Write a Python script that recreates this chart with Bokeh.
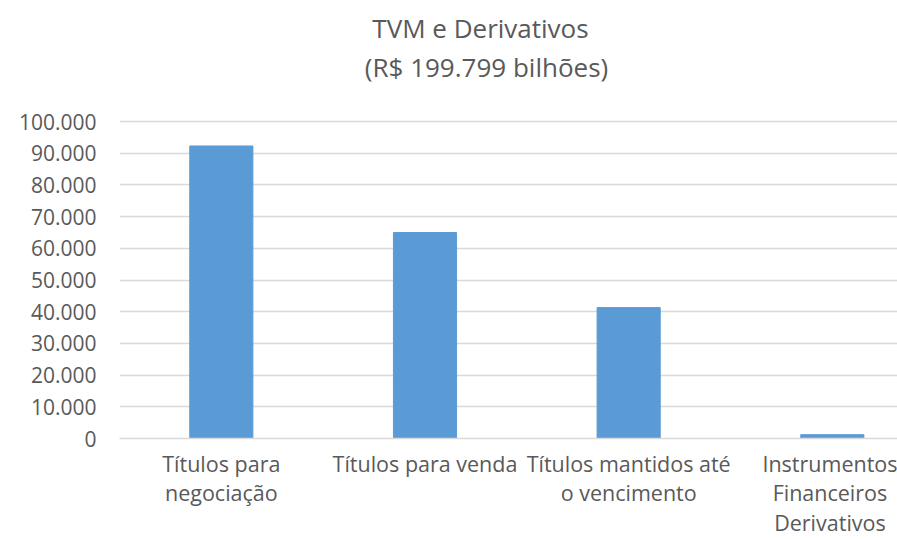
from bokeh.plotting import figure
from bokeh.models import Range1d, FixedTicker, Label
from bokeh.embed import file_html
from bokeh.resources import INLINE

categories = ["Títulos para\nnegociação", "Títulos para venda", "Títulos mantidos até\no vencimento",
              "Instrumentos\nFinanceiros\nDerivativos"]
values = [92300, 65000, 41300, 1200]
y_ticks = [0, 10000, 20000, 30000, 40000, 50000, 60000, 70000, 80000, 90000, 100000]
y_labels = ["0", "10.000", "20.000", "30.000", "40.000", "50.000", "60.000", "70.000", "80.000", "90.000", "100.000"]
title1 = "TVM e Derivativos"
title2 = "(R$ 199.799 bilhões)"

FONT = "Open Sans"
TXT = "#595959"
GRID = "#D9D9D9"

xs = list(range(len(categories)))
# frame spans the full height above the axis; the extra y-room holds the title lines
p = figure(width=897, height=539, output_backend="svg", toolbar_location=None,
           x_range=Range1d(-0.5, 3.32), y_range=Range1d(0, 138200),
           min_border_left=119, min_border_right=0, min_border_top=0, min_border_bottom=101)
p.outline_line_color = None
p.vbar(x=xs, top=values, width=0.31, fill_color="#5B9BD5", line_color="#5B9BD5")

p.xaxis.ticker = FixedTicker(ticks=xs)
p.xaxis.major_label_overrides = {i: c for i, c in enumerate(categories)}
p.xaxis.major_tick_line_color = None
p.xaxis.minor_tick_line_color = None
p.xaxis.axis_line_color = GRID
p.xaxis.axis_line_width = 1.3
p.xaxis.major_label_text_font = FONT
p.xaxis.major_label_text_font_size = "21.5px"
p.xaxis.major_label_text_line_height = 1.02
p.xaxis.major_label_text_color = TXT
p.xaxis.major_label_standoff = 4
p.xgrid.grid_line_color = None

p.yaxis.ticker = FixedTicker(ticks=y_ticks)
p.yaxis.major_label_overrides = {t: l for t, l in zip(y_ticks, y_labels)}
p.yaxis.major_tick_line_color = None
p.yaxis.minor_tick_line_color = None
p.yaxis.axis_line_color = None
p.yaxis.major_label_text_font = FONT
p.yaxis.major_label_text_font_size = "21px"
p.yaxis.major_label_text_color = TXT
p.yaxis.major_label_standoff = 17
p.ygrid.grid_line_color = GRID
p.ygrid.grid_line_width = 1.3

p.add_layout(Label(x=361, y=411, x_units="screen", y_units="screen", text=title1,
                   text_font=FONT, text_font_size="26px", text_color=TXT,
                   text_align="center", text_baseline="middle"))
p.add_layout(Label(x=367, y=372, x_units="screen", y_units="screen", text=title2,
                   text_font=FONT, text_font_size="26px", text_color=TXT,
                   text_align="center", text_baseline="middle"))

open("out.html", "w").write(file_html(p, INLINE))
